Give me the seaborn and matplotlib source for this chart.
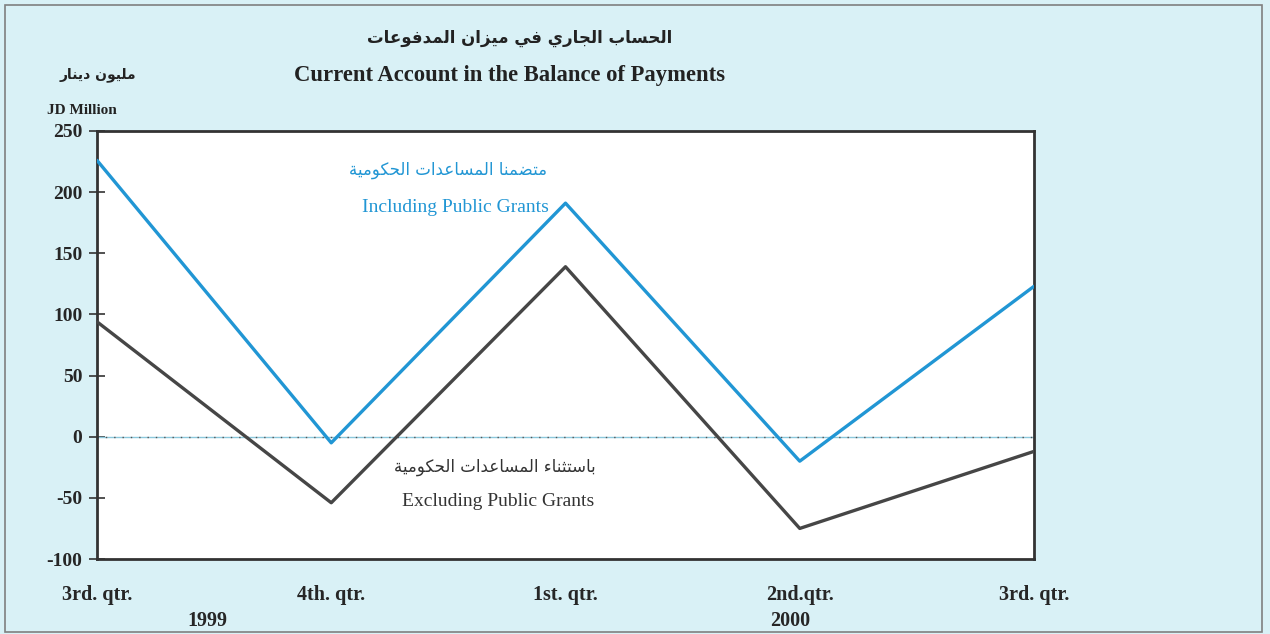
import numpy as np
import pandas as pd
import matplotlib
matplotlib.use('Agg')
import matplotlib.pyplot as plt
import matplotlib.transforms as mtrans
from matplotlib.patches import Rectangle
import seaborn as sns

# ---------------- data ----------------
quarters = ['3rd. qtr.', '4th. qtr.', '1st. qtr.', '2nd.qtr.', '3rd. qtr.']
years = ['1999', '2000']
year_pos = [0.47, 2.96]
including = [226, -5, 191, -20, 123]
excluding = [94, -54, 139, -75, -12]
y_ticks = [-100, -50, 0, 50, 100, 150, 200, 250]

title_ar = 'الحساب الجاري في ميزان المدفوعات'
title_en = 'Current Account in the Balance of Payments'
unit_ar = 'مليون دينار'
unit_en = 'JD Million'
incl_ar = 'متضمنا المساعدات الحكومية'
incl_en = 'Including Public Grants'
excl_ar = 'باستثناء المساعدات الحكومية'
excl_en = 'Excluding Public Grants'

# ---------------- minimal Arabic shaping ----------------
DUAL = {'ب': 0xFE8F, 'ت': 0xFE95, 'ث': 0xFE99, 'ج': 0xFE9D, 'ح': 0xFEA1,
        'س': 0xFEB1, 'ض': 0xFEBD, 'ع': 0xFEC9, 'ف': 0xFED1, 'ك': 0xFED9,
        'ل': 0xFEDD, 'م': 0xFEE1, 'ن': 0xFEE5, 'ي': 0xFEF1}
RIGHT = {'ا': 0xFE8D, 'ة': 0xFE93, 'د': 0xFEA9, 'ر': 0xFEAD, 'ز': 0xFEAF,
         'و': 0xFEED}
NONJ = {'ء': 0xFE80}


def shape_ar(s):
    chars = list(s)
    n = len(chars)
    out = []
    i = 0

    def joining(c):
        return c in DUAL or c in RIGHT

    while i < n:
        c = chars[i]
        prev = chars[i - 1] if i > 0 else None
        jp = (prev in DUAL) and joining(c)
        if c == 'ل' and i + 1 < n and chars[i + 1] == 'ا':
            out.append(chr(0xFEFC if jp else 0xFEFB))
            i += 2
            continue
        nxt = chars[i + 1] if i + 1 < n else None
        jn = (c in DUAL) and joining(nxt)
        if c in DUAL:
            off = 3 if (jp and jn) else 1 if jp else 2 if jn else 0
            out.append(chr(DUAL[c] + off))
        elif c in RIGHT:
            out.append(chr(RIGHT[c] + (1 if jp else 0)))
        elif c in NONJ:
            out.append(chr(NONJ[c]))
        else:
            out.append(c)
        i += 1
    return ''.join(reversed(out))


# ---------------- style ----------------
sns.set_style('white')
plt.rcParams['font.family'] = ['Liberation Serif', 'DejaVu Sans']

W, H = 1270, 634
bg = '#d9f1f6'
blue = '#2196d4'
dark = '#464646'
txt = '#262626'

fig = plt.figure(figsize=(W / 100, H / 100), dpi=100)
fig.patch.set_facecolor(bg)
fig.patches.append(Rectangle((5 / W, 2 / H), 1257 / W, 627 / H,
                             transform=fig.transFigure, fill=False,
                             edgecolor='#808080', lw=1.2))

ax = fig.add_axes([97 / W, 75 / H, 937 / W, 428 / H])
ax.set_facecolor('white')

df = pd.DataFrame({'pos': np.arange(len(quarters)),
                   'Including': including,
                   'Excluding': excluding})

ax.axhline(0, color='#8cc8dc', lw=1.0, zorder=1)
ax.axhline(0, color='#555555', lw=1.0, ls=(0, (1, 5)), zorder=1)
sns.lineplot(data=df, x='pos', y='Excluding', ax=ax, color=dark, lw=2.4,
             zorder=3)
sns.lineplot(data=df, x='pos', y='Including', ax=ax, color=blue, lw=2.4,
             zorder=4)

ax.set_xlim(0, len(quarters) - 1)
ax.set_ylim(y_ticks[0], y_ticks[-1])
ax.set_xlabel('')
ax.set_ylabel('')
ax.set_yticks(y_ticks)
ax.set_yticklabels([str(v) for v in y_ticks], fontsize=14,
                   fontweight='bold', color=txt)
ax.set_xticks(df['pos'])
ax.set_xticklabels(quarters, fontsize=14.5, fontweight='bold', color=txt)
ax.tick_params(axis='x', length=0, pad=19)
ax.tick_params(axis='y', direction='inout', length=11, width=1.2,
               color='#333333', pad=5, left=True)
for sp in ax.spines.values():
    sp.set_visible(True)
    sp.set_color('#333333')
    sp.set_linewidth(2.0)

# year labels
trans = mtrans.blended_transform_factory(ax.transData, fig.transFigure)
for yr, xp in zip(years, year_pos):
    ax.text(xp, 1 - 621 / H, yr, transform=trans, ha='center', va='center',
            fontsize=14.5, fontweight='bold', color=txt)


def ftext(x, y, s, **kw):
    fig.text(x / W, 1 - y / H, s, **kw)


ftext(520, 38, shape_ar(title_ar), ha='center', va='center', fontsize=12,
      fontweight='bold', family=['DejaVu Sans'], color='#222222')
ftext(510, 76, title_en, ha='center', va='center', fontsize=16.3,
      fontweight='bold', color='#222222')
ftext(98, 75, shape_ar(unit_ar), ha='center', va='center', fontsize=10,
      fontweight='bold', family=['DejaVu Sans'], color='#222222')
ftext(82, 110, unit_en, ha='center', va='center', fontsize=11,
      fontweight='bold', color='#222222')

ftext(448, 170, shape_ar(incl_ar), ha='center', va='center', fontsize=12,
      family=['DejaVu Sans'], color=blue)
ftext(455, 207, incl_en, ha='center', va='center', fontsize=14,
      color=blue)
ftext(495, 467, shape_ar(excl_ar), ha='center', va='center', fontsize=12,
      family=['DejaVu Sans'], color='#333333')
ftext(498, 502, excl_en, ha='center', va='center', fontsize=14,
      color='#333333')

fig.savefig('out.png', dpi=100, facecolor=bg)
